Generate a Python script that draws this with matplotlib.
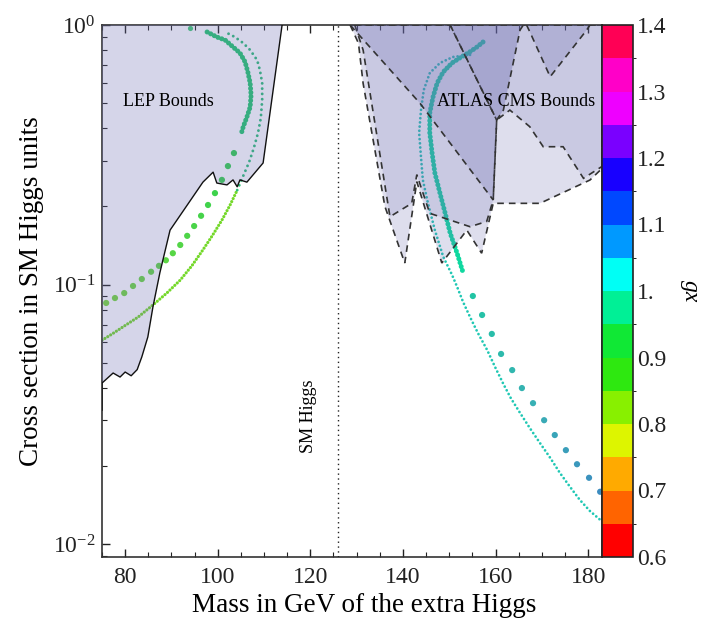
import numpy as np
import matplotlib
matplotlib.use('Agg')
import matplotlib.pyplot as plt
from matplotlib.colors import ListedColormap, BoundaryNorm, LinearSegmentedColormap
from matplotlib.cm import ScalarMappable
from matplotlib.patches import Polygon
import matplotlib.ticker as mticker

plt.rcParams['font.family'] = ['Liberation Serif', 'DejaVu Serif']
plt.rcParams['mathtext.fontset'] = 'stix'

# ---------------- data ----------------
# LEP exclusion boundary (mass GeV, cross section in SM units)
lep_mass = [75.0, 75.0, 77.4, 78.9, 80.0, 81.3, 82.6, 83.2, 83.6, 84.9, 86.0, 87.5, 89.7,
            96.8, 99.0, 99.8, 102.0, 103.3, 104.2, 104.8, 106.3, 109.8, 113.9]
lep_xs = [0.0328, 0.0417, 0.0456, 0.0440, 0.0460, 0.0445, 0.0470, 0.0503, 0.0526, 0.0628,
          0.0819, 0.111, 0.162, 0.248, 0.271, 0.246, 0.242, 0.253, 0.238, 0.253, 0.248, 0.294, 1.0]

# ATLAS / CMS exclusion regions (overlapping)
atlas1_mass = [128.6, 130.4, 131.4, 136.1, 140.4, 143.0, 148.4, 153.8, 157.0, 159.5, 169.6, 180.4, 183.0, 183.0]
atlas1_xs = [1.0, 0.85, 0.596, 0.20, 0.121, 0.249, 0.121, 0.162, 0.132, 0.2055, 0.2055, 0.2527, 0.28, 1.0]
atlas2_mass = [129.6, 131.4, 137.2, 141.9, 143.0, 145.8, 154.5, 158.1, 159.5, 160.25, 163.1, 167.4,
               170.3, 174.6, 179.0, 183.0, 183.0]
atlas2_xs = [1.0, 0.801, 0.1825, 0.2055, 0.265, 0.1881, 0.167, 0.175, 0.2117, 0.4305, 0.470, 0.4056,
             0.3396, 0.3396, 0.2566, 0.285, 1.0]
atlas3_mass = [128.6, 143.7, 159.5, 160.25, 150.2]
atlas3_xs = [1.0, 0.499, 0.2117, 0.4305, 1.0]
atlas4_mass = [150.2, 160.25, 161.7, 165.3, 166.0]
atlas4_xs = [1.0, 0.4305, 0.470, 0.9566, 1.0]
atlas5_mass = [166.7, 167.4, 171.8, 179.7, 180.4]
atlas5_xs = [1.0, 0.942, 0.632, 0.9566, 1.0]

# scan points, left branch
left_outer_low_mass = [75.0, 77.2, 79.5, 82.8, 86.0, 89.0, 91.9, 94.4, 96.8, 98.8, 100.9, 102.7, 104.2]
left_outer_low_xs = [0.061, 0.0645, 0.0686, 0.0749, 0.0834, 0.0927, 0.104, 0.118, 0.136, 0.154, 0.177, 0.203, 0.231]
left_outer_up_mass = [104.2, 105.5, 106.8, 107.8, 108.7, 109.3, 109.6, 109.6, 109.1, 108.5, 107.0, 105.5, 103.7, 102.0]
left_outer_up_xs = [0.231, 0.262, 0.297, 0.336, 0.384, 0.438, 0.514, 0.598, 0.671, 0.733, 0.801, 0.852, 0.899, 0.932]
left_inner_mass = [97.7, 99.8, 101.6, 103.3, 104.8, 105.9, 106.5, 107.0, 107.2, 107.0, 106.3, 105.5, 105.0]
left_inner_xs = [0.940, 0.899, 0.875, 0.823, 0.780, 0.721, 0.659, 0.598, 0.537, 0.483, 0.442, 0.405, 0.377]
left_sparse_mass = [103.5, 102.2, 100.9, 99.4, 97.9, 96.4, 94.9, 93.4, 91.9, 90.3, 88.8, 87.3,
                    85.6, 83.6, 81.7, 79.8, 77.8, 75.9]
left_sparse_xs = [0.321, 0.286, 0.253, 0.225, 0.2025, 0.184, 0.168, 0.154, 0.142, 0.132, 0.124, 0.118,
                  0.112, 0.105, 0.0987, 0.0927, 0.0887, 0.0849]
single_mass = [94.0]
single_xs = [0.974]

# scan points, right branch
right_inner_mass = [157.3, 156.0, 154.1, 152.3, 150.6, 148.7, 147.4, 146.5, 145.8, 145.8, 146.3, 146.9,
                    148.0, 149.1, 150.2, 151.7, 153.0]
right_inner_xs = [0.860, 0.823, 0.780, 0.747, 0.714, 0.659, 0.598, 0.528, 0.458, 0.384, 0.321, 0.269,
                  0.225, 0.189, 0.158, 0.132, 0.111]
right_outer_mass = [154.5, 150.8, 148.0, 145.8, 144.5, 143.9, 143.5, 143.9, 144.3, 145.4, 146.9, 148.7,
                    150.6, 151.7, 153.0, 154.5, 156.2, 158.2, 159.9, 161.6, 163.3, 165.3, 167.4, 169.6,
                    171.8, 173.9, 176.1, 178.2, 180.4, 182.6]
right_outer_xs = [0.767, 0.753, 0.714, 0.653, 0.562, 0.470, 0.384, 0.310, 0.253, 0.206, 0.162, 0.128,
                  0.109, 0.098, 0.0856, 0.0749, 0.0650, 0.0559, 0.0481, 0.0417, 0.0365, 0.0320, 0.0280,
                  0.0245, 0.0215, 0.0188, 0.0166, 0.0148, 0.0134, 0.0124]
right_sparse_mass = [155.1, 157.1, 159.2, 161.2, 163.6, 165.7, 168.1, 170.5, 172.8, 175.2, 177.6, 180.2, 182.6]
right_sparse_xs = [0.0903, 0.0763, 0.0645, 0.0540, 0.0468, 0.0399, 0.0349, 0.0300, 0.0263, 0.0230,
                   0.0203, 0.0180, 0.0159]

sm_higgs_mass = 126.0

# colour bar (gx)
gx_bounds = [0.60, 0.65, 0.70, 0.75, 0.80, 0.85, 0.90, 0.95, 1.00, 1.05, 1.10, 1.15, 1.20, 1.25, 1.30, 1.35, 1.40]
gx_colors = ['#FF0000', '#FF6400', '#FFAA00', '#DDF500', '#88F000', '#2EE810', '#10E835', '#00F096',
             '#00FFF5', '#0099FF', '#0048FF', '#1800FF', '#7A00FF', '#EE00FF', '#FF00C8', '#FF0055']
gx_ticks = [0.6, 0.7, 0.8, 0.9, 1.0, 1.1, 1.2, 1.3, 1.4]
gx_ticklabels = ['0.6', '0.7', '0.8', '0.9', '1.', '1.1', '1.2', '1.3', '1.4']

x_ticks = [80, 100, 120, 140, 160, 180]

# ---------------- figure ----------------
W, H = 704, 632
fig = plt.figure(figsize=(W / 100, H / 100), dpi=100)
ax = fig.add_axes([102 / W, 75 / H, 500 / W, 532 / H])
ax.set_yscale('log')
ax.set_xlim(75, 183)
ax.set_ylim(10 ** -2.05, 1.0)


def dotted(x, y, color, lw, gap):
    ax.plot(x, y, color=color, lw=lw, linestyle=(0, (0.01, gap)),
            dash_capstyle='round', zorder=2)


# scan curves
dotted(left_outer_low_mass, left_outer_low_xs, '#74D82A', 2.3, 1.05)
dotted(left_outer_up_mass, left_outer_up_xs, '#2DBE78', 2.1, 1.8)
dotted(left_inner_mass, left_inner_xs, '#22C86E', 3.6, 0.8)
lcm = LinearSegmentedColormap.from_list('l', ['#30D050', '#7ADB3C'])
ax.scatter(left_sparse_mass, left_sparse_xs, s=20, c=lcm(np.linspace(0, 1, len(left_sparse_mass))),
           linewidths=0, zorder=2)
ax.scatter(single_mass, single_xs, s=14, c='#44CC77', linewidths=0, zorder=2)

dotted(right_inner_mass, right_inner_xs, '#10D8A0', 3.6, 0.8)
dotted(right_outer_mass, right_outer_xs, '#20C8B4', 2.0, 1.5)
rcm = LinearSegmentedColormap.from_list('r', ['#22C4A4', '#38B0B4', '#3C8CC0'])
ax.scatter(right_sparse_mass, right_sparse_xs, s=20, c=rcm(np.linspace(0, 1, len(right_sparse_mass))),
           linewidths=0, zorder=2)

# exclusion regions (drawn on top, translucent)
region_rgb = (106 / 255, 106 / 255, 176 / 255)
lep_poly = list(zip(lep_mass, lep_xs)) + [(75.0, 1.0)]
ax.add_patch(Polygon(lep_poly, closed=True, facecolor=region_rgb + (0.28,), edgecolor='none', zorder=3))
ax.plot(lep_mass, lep_xs, color='#111111', lw=1.0, zorder=4)

for mx, sx, a in [(atlas1_mass, atlas1_xs, 0.22), (atlas2_mass, atlas2_xs, 0.18),
                  (atlas3_mass, atlas3_xs, 0.24), (atlas4_mass, atlas4_xs, 0.36),
                  (atlas5_mass, atlas5_xs, 0.25)]:
    ax.add_patch(Polygon(list(zip(mx, sx)), closed=True, facecolor=region_rgb + (a,),
                         edgecolor='#333333', lw=1.2, linestyle=(0, (4, 3)), zorder=3))

ax.axvline(sm_higgs_mass, color='#222222', lw=1.0, linestyle=(0, (1, 2.5)), zorder=4)

ax.text(89.3, 0.505, 'LEP Bounds', fontsize=13, ha='center', va='center', zorder=6)
ax.text(164.4, 0.505, 'ATLAS CMS Bounds', fontsize=13, ha='center', va='center', zorder=6)
ax.text(119.5, 0.031, 'SM Higgs', fontsize=13, rotation=90, ha='center', va='center', zorder=6)

# axes styling
ax.set_xticks(x_ticks)
ax.xaxis.set_minor_locator(mticker.MultipleLocator(5))
ax.yaxis.set_major_locator(mticker.LogLocator(base=10, numticks=10))
ax.yaxis.set_minor_locator(mticker.LogLocator(base=10, subs=np.arange(2, 10), numticks=20))
ax.yaxis.set_minor_formatter(mticker.NullFormatter())
ax.tick_params(which='both', direction='in', top=True, right=False, colors='#222222', labelsize=17)
ax.tick_params(which='major', length=6, width=1.0)
ax.tick_params(which='minor', length=3.5, width=0.8)
ax.tick_params(axis='x', pad=7)
ax.tick_params(axis='y', pad=5)
for sp in ax.spines.values():
    sp.set_color('#333333')
    sp.set_linewidth(1.2)

fig.text(364 / W, 1 - 605 / H, 'Mass in GeV of the extra Higgs', fontsize=19.5, ha='center', va='center')
fig.text(32 / W, 1 - 291 / H, 'Cross section in SM Higgs units', fontsize=19.5, rotation=90,
         ha='center', va='center')

# colour bar
cax = fig.add_axes([602 / W, 75 / H, 31 / W, 532 / H])
cmap = ListedColormap(gx_colors)
norm = BoundaryNorm(gx_bounds, cmap.N)
cb = fig.colorbar(ScalarMappable(norm=norm, cmap=cmap), cax=cax, ticks=gx_ticks)
cb.ax.set_yticklabels(gx_ticklabels)
cb.ax.tick_params(length=0, labelsize=17, pad=3, colors='#222222')
cb.outline.set_linewidth(1.2)
cb.outline.set_edgecolor('#222222')
fig.text(690 / W, 1 - 291 / H, 'gx', fontsize=17, style='italic', rotation=-90, ha='center', va='center')

fig.savefig('out.png', dpi=100)
